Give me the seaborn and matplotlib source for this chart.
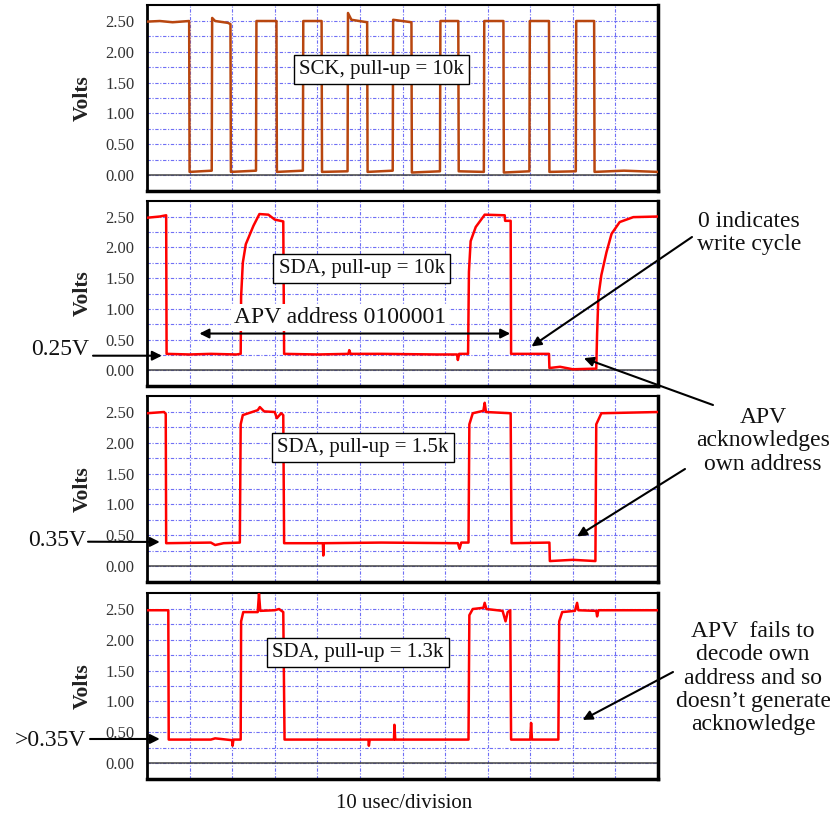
import matplotlib
matplotlib.use('Agg')
import matplotlib.pyplot as plt
import seaborn as sns
import numpy as np

# ---- traces (time in usec, voltage in V) ----
sck_t = [0, 3, 6, 9.9, 10.0, 15.2, 15.3, 16.0, 19.0, 19.6, 19.7, 25.6, 25.7, 30.4,
         30.5, 36.6, 36.7, 41.0, 41.1, 47.1, 47.2, 48.0, 51.7, 51.8, 57.7, 57.8,
         62.1, 62.2, 68.8, 68.9, 73.1, 73.2, 79.1, 79.2, 83.7, 83.8, 89.8, 89.9,
         94.4, 94.5, 100.7, 100.8, 105.0, 105.1, 112, 120]
sck_v = [2.49, 2.50, 2.48, 2.50, 0.05, 0.07, 2.55, 2.50, 2.47, 2.45, 0.05, 0.07, 2.50, 2.50,
         0.05, 0.07, 2.50, 2.50, 0.05, 0.06, 2.63, 2.52, 2.48, 0.05, 0.07, 2.52,
         2.48, 0.04, 0.06, 2.50, 2.50, 0.06, 0.05, 2.50, 2.50, 0.04, 0.06, 2.50,
         2.50, 0.05, 0.06, 2.50, 2.50, 0.05, 0.07, 0.05]

sda10_t = [0, 3, 4.5, 4.6, 10, 15, 21, 22.0, 22.1, 22.5, 23.2, 25.0, 26.4, 28.5, 30.0,
           32.0, 32.2, 40, 47.3, 47.5, 47.8, 55, 68, 72.8, 73.0, 73.3, 75.4, 75.6,
           76.0, 77.2, 79.0, 79.3, 84.0, 84.1, 85.4, 85.5, 94.4, 94.5, 97, 100, 105.5,
           105.7, 106.0, 106.7, 107.9, 109.1, 111.0, 114.2, 120]
sda10_v = [2.48, 2.50, 2.52, 0.27, 0.26, 0.27, 0.26, 0.27, 1.20, 1.75, 2.05, 2.35, 2.54, 2.53, 2.45,
           2.42, 0.27, 0.26, 0.27, 0.33, 0.27, 0.27, 0.26, 0.26, 0.17, 0.27, 0.27, 1.60,
           2.10, 2.33, 2.50, 2.53, 2.52, 2.43, 2.43, 0.27, 0.27, 0.04, 0.06, 0.02, 0.03,
           0.60, 1.20, 1.55, 1.92, 2.22, 2.41, 2.49, 2.50]

sda15_t = [0, 4.0, 4.4, 4.5, 15, 16, 18, 21.8, 22.0, 22.5, 26.0, 26.5, 27.5, 30.0, 30.5,
           31.5, 32.0, 32.2, 41.3, 41.4, 41.5, 55, 73.0, 73.4, 73.8, 75.5, 75.7, 76.5,
           79.0, 79.3, 79.6, 85.4, 85.6, 94.5, 94.6, 100, 105.3, 105.5, 106.7, 120]
sda15_v = [2.48, 2.50, 2.47, 0.37, 0.38, 0.34, 0.37, 0.38, 2.30, 2.45, 2.53, 2.58, 2.51, 2.50, 2.40,
           2.48, 2.45, 0.37, 0.37, 0.17, 0.37, 0.38, 0.37, 0.28, 0.38, 0.38, 2.30, 2.48,
           2.52, 2.65, 2.50, 2.48, 0.37, 0.38, 0.08, 0.10, 0.08, 2.30, 2.48, 2.50]

sda13_t = [0, 5.0, 5.1, 15, 16, 20.0, 20.1, 20.3, 22.0, 22.1, 22.6, 26.0, 26.3, 26.6, 30.0,
           31.0, 32.0, 32.3, 52.0, 52.1, 52.3, 58.0, 58.1, 58.3, 75.5, 75.7, 76.5, 79.0,
           79.3, 79.7, 83.5, 84.2, 84.7, 85.3, 85.5, 90.0, 90.2, 90.4, 96.6, 96.8, 97.5,
           100.5, 101.0, 101.3, 105.5, 105.7, 106.0, 120]
sda13_v = [2.48, 2.48, 0.38, 0.38, 0.40, 0.37, 0.28, 0.38, 0.38, 2.30, 2.45, 2.45, 2.75, 2.47, 2.48,
           2.50, 2.45, 0.38, 0.38, 0.28, 0.38, 0.38, 0.62, 0.38, 0.38, 2.40, 2.50, 2.52,
           2.60, 2.50, 2.47, 2.30, 2.45, 2.48, 0.38, 0.38, 0.65, 0.38, 0.38, 2.30, 2.45,
           2.47, 2.60, 2.48, 2.47, 2.38, 2.48, 2.48]

labels = ['SCK, pull-up = 10k', 'SDA, pull-up = 10k', 'SDA, pull-up = 1.5k', 'SDA, pull-up = 1.3k']
ytick_vals = [0.0, 0.5, 1.0, 1.5, 2.0, 2.5]

sns.set_theme(style='white')
plt.rcParams['font.family'] = ['Liberation Serif', 'DejaVu Serif']

W, H = 830, 814
fig = plt.figure(figsize=(8.3, 8.14), dpi=100)

traces = [(sck_t, sck_v), (sda10_t, sda10_v), (sda15_t, sda15_v), (sda13_t, sda13_v)]
colors = ['#b8460f', '#ff0000', '#ff0000', '#ff0000']
bottoms_px = [191, 386.5, 582, 779]   # bottom edge of each panel, pixels from top
box_pos = [(55.0, 1.71), (50.4, 1.66), (50.7, 1.92), (49.5, 1.79)]

axes = []
for i, (t, v) in enumerate(traces):
    ax = fig.add_axes([147 / W, 1 - bottoms_px[i] / H, 511 / W, 186 / H])
    sns.lineplot(x=t, y=v, sort=False, estimator=None, color=colors[i], lw=1.8, ax=ax, zorder=3)
    ax.axhline(0, color='#444444', lw=1.1, zorder=2)
    ax.set_xlim(0, 120)
    ax.set_ylim(-0.26, 2.76)
    ax.set_xticks(range(10, 120, 10))
    ax.set_xticklabels([])
    ax.set_yticks(ytick_vals)
    ax.set_yticklabels([f'{y:.2f}' for y in ytick_vals])
    ax.set_yticks([0.25, 0.75, 1.25, 1.75, 2.25], minor=True)
    ax.tick_params(which='both', length=0)
    ax.tick_params(axis='y', labelsize=12, pad=9, labelcolor='#333333')
    ax.grid(which='both', color='#6f6ff5', lw=0.8, ls=(0, (3, 1.5, 1, 1.5)), zorder=1)
    ax.set_xlabel('')
    ax.set_ylabel('Volts', fontsize=15.5, fontweight='bold', labelpad=9, color='#222222')
    for name, sp in ax.spines.items():
        sp.set_color('black')
        sp.set_linewidth({'left': 2.0, 'top': 1.5, 'right': 2.5, 'bottom': 2.5}[name])
    bx, by = box_pos[i]
    ax.text(bx, by, labels[i], ha='center', va='center', fontsize=15, color='#111111', zorder=5,
            bbox=dict(boxstyle='square,pad=0.25', fc='white', ec='black', lw=1.0))
    axes.append(ax)

arrow_kw = dict(arrowstyle='-|>', color='black', lw=1.5, mutation_scale=14, shrinkA=0, shrinkB=0)


def pointer(ax, tip, tail_px):
    ax.annotate('', xy=tip, xycoords='data', xytext=(tail_px[0], H - tail_px[1]),
                textcoords='figure pixels', arrowprops=arrow_kw, annotation_clip=False, zorder=6)


# address span in panel 2
ax2 = axes[1]
ax2.text(45.4, 0.86, 'APV address 0100001', ha='center', va='center', fontsize=17, color='#111111',
         zorder=4, bbox=dict(boxstyle='square,pad=0.12', fc='white', ec='none'))
ax2.annotate('', xy=(12.3, 0.60), xytext=(85.3, 0.60),
             arrowprops=dict(arrowstyle='<|-|>', color='black', lw=1.5, mutation_scale=14,
                             shrinkA=0, shrinkB=0), zorder=6)

# level markers on the left
fig.text(89 / W, 1 - 350 / H, '0.25V', ha='right', va='center', fontsize=17, color='#111111')
pointer(axes[1], (3.5, 0.24), (93, 355.7))
fig.text(86 / W, 1 - 541 / H, '0.35V', ha='right', va='center', fontsize=17, color='#111111')
pointer(axes[2], (3.0, 0.39), (88, 541.7))
fig.text(86 / W, 1 - 741 / H, '>0.35V', ha='right', va='center', fontsize=17, color='#111111')
pointer(axes[3], (3.0, 0.39), (90, 739))

# notes on the right
fig.text(749 / W, 1 - 233 / H, '0 indicates\nwrite cycle', ha='center', va='center',
         fontsize=17, linespacing=1.15, color='#111111')
pointer(axes[1], (90.3, 0.39), (692, 237))

fig.text(763 / W, 1 - 441 / H, 'APV\nacknowledges\nown address', ha='center', va='center',
         fontsize=17, linespacing=1.15, color='#111111')
pointer(axes[1], (102.6, 0.20), (713, 405))
pointer(axes[2], (101.0, 0.48), (685, 469))

fig.text(753 / W, 1 - 678 / H, 'APV  fails to\ndecode own\naddress and so\ndoesn\u2019t generate\nacknowledge',
         ha='center', va='center', fontsize=17, linespacing=1.15, color='#111111')
pointer(axes[3], (102.3, 0.70), (673, 672))

fig.text(404 / W, 1 - 803 / H, '10 usec/division', ha='center', va='center', fontsize=15, color='#111111')

fig.savefig('out.png', dpi=100)
